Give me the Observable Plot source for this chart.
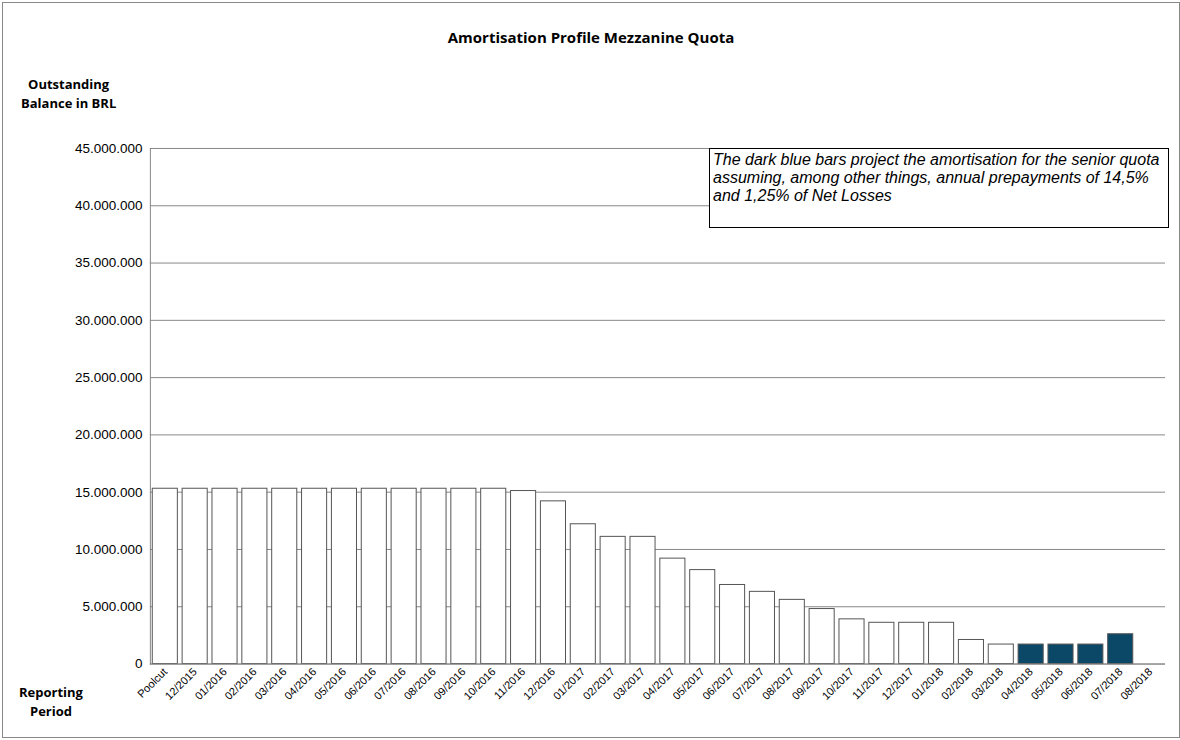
<!DOCTYPE html>
<html><head><meta charset="utf-8">
<script src="https://cdn.jsdelivr.net/npm/d3@7"></script>
<script src="https://cdn.jsdelivr.net/npm/@observablehq/plot@0.6"></script>
<style>
body{margin:0;background:#fff;font-family:"Liberation Sans",Arial,sans-serif}
#wrap{position:relative;width:1176px;height:734px;border:1px solid #888;margin:2px;overflow:hidden}
.t{position:absolute;font-weight:bold;font-family:"Open Sans","Liberation Sans",sans-serif;font-size:13px}
#note{position:absolute;left:706px;top:145px;width:460px;height:80px;border:1px solid #000;background:#fff;font-style:italic;font-size:16px;line-height:18px;padding:2px 3px;box-sizing:border-box}
#chart{position:absolute;left:-3px;top:125px}
</style></head><body>
<div id="wrap">
<div class="t" style="left:0;width:1176px;text-align:center;top:24px;font-size:15px">Amortisation Profile Mezzanine Quota</div>
<div class="t" style="left:18px;top:72px;line-height:19px;text-align:center">Outstanding<br>Balance in BRL</div>
<div class="t" style="left:16px;top:680px;line-height:19px;text-align:center">Reporting<br>Period</div>
<div id="chart"></div>
<div id="note">The dark blue bars project the amortisation for the senior quota assuming, among other things, annual prepayments of 14,5% and 1,25% of Net Losses</div>
</div>
<script>
const periods = ["Poolcut","12/2015","01/2016","02/2016","03/2016","04/2016","05/2016","06/2016","07/2016","08/2016","09/2016","10/2016","11/2016","12/2016","01/2017","02/2017","03/2017","04/2017","05/2017","06/2017","07/2017","08/2017","09/2017","10/2017","11/2017","12/2017","01/2018","02/2018","03/2018","04/2018","05/2018","06/2018","07/2018","08/2018"];
const balances = [15300000,15300000,15300000,15300000,15300000,15300000,15300000,15300000,15300000,15300000,15300000,15300000,15100000,14200000,12200000,11100000,11100000,9200000,8200000,6900000,6300000,5600000,4800000,3900000,3600000,3600000,3600000,2100000,1700000,1700000,1700000,1700000,2600000,0];
const projected = ["04/2018","05/2018","06/2018","07/2018"];
const yTicks = d3.range(0, 45000001, 5000000);
const data = periods.map((p,i)=>({p, v:balances[i], proj:projected.includes(p)}));
const fmt = d => d3.format(",")(d).replace(/,/g,".");
const chart = Plot.plot({
  width:1180, height:613,
  marginTop:20, marginBottom:77, marginLeft:150, marginRight:14,
  style:{fontFamily:"'Liberation Sans',Arial,sans-serif", fontSize:"13.5px", color:"#000"},
  x:{domain:periods, paddingInner:0.16, paddingOuter:0.08, round:false, label:null, tickRotate:-45, tickSize:0, tickPadding:6},
  y:{domain:[0,45000000], ticks:yTicks, tickFormat:fmt, label:null, tickSize:0, tickPadding:8},
  marks:[
    Plot.gridY(yTicks,{stroke:"#888", strokeOpacity:1}),
    Plot.barY(data,{x:"p", y:"v", fill:d=>d.proj?"#0b4868":"#fff", stroke:"#555", strokeWidth:1}),
    Plot.ruleY([0],{stroke:"#888"}),
    Plot.frame({anchor:"left", stroke:"#888"})
  ]
});
chart.querySelectorAll('[aria-label="x-axis tick label"] text').forEach(t=>t.setAttribute("font-size","11px"));
document.getElementById("chart").append(chart);
</script>
</body></html>
